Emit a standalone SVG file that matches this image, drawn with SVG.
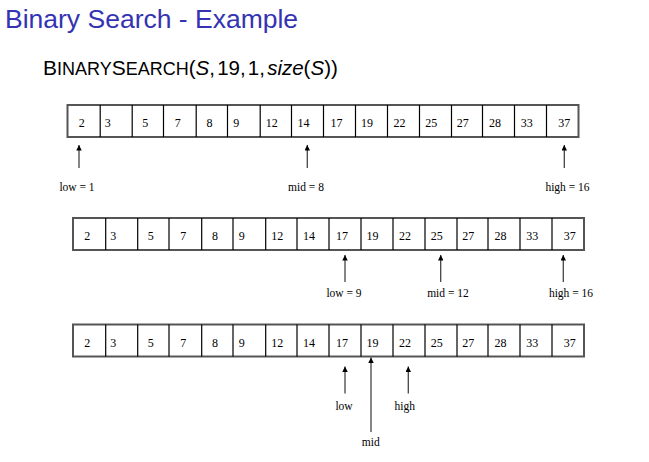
<svg xmlns="http://www.w3.org/2000/svg" width="649" height="462" viewBox="0 0 649 462">
<style>
.title{font-family:"Liberation Sans",Arial,sans-serif;font-size:26.5px;fill:#3333b3}
.sub{font-family:"Liberation Sans",Arial,sans-serif;font-size:21px;fill:#000}
.sc{font-size:18px}
.rest{font-size:20.5px;word-spacing:-3.5px}
.it{font-style:italic}
.frame{fill:#fff;stroke:#555;stroke-width:2}
.div{stroke:#000;stroke-width:1.2}
.num{font-family:"Liberation Serif","Times New Roman",serif;font-size:12px;fill:#000;text-anchor:middle}
.lbl{font-family:"Liberation Serif","Times New Roman",serif;font-size:11.5px;fill:#000;text-anchor:middle}
.arr{stroke:#444;stroke-width:1.3;fill:none;marker-end:url(#ah)}
</style>
<defs>
<marker id="ah" viewBox="0 0 10 10" refX="10" refY="5" markerUnits="userSpaceOnUse" markerWidth="11" markerHeight="5.5" orient="auto">
<path d="M0,0 L10,5 L0,10 z" fill="#000"/>
</marker>
<g id="cells">
<rect class="frame" x="73" y="0" width="511" height="32"/>
<path class="div" d="M105.7,0V32M137.7,0V32M169,0V32M201.7,0V32M233,0V32M265.7,0V32M297,0V32M329,0V32M361,0V32M393,0V32M425,0V32M457,0V32M488,0V32M520,0V32M552,0V32"/>
<text class="num" y="22"><tspan x="87.3">2</tspan><tspan x="113.3">3</tspan><tspan x="150.7">5</tspan><tspan x="183.3">7</tspan><tspan x="215">8</tspan><tspan x="241.7">9</tspan><tspan x="277.3">12</tspan><tspan x="309">14</tspan><tspan x="342">17</tspan><tspan x="372.5">19</tspan><tspan x="405">22</tspan><tspan x="436.7">25</tspan><tspan x="468.3">27</tspan><tspan x="500.5">28</tspan><tspan x="532.3">33</tspan><tspan x="569.7">37</tspan></text>
</g>
</defs>
<g id="title"><text class="title" x="5" y="28">Binary Search - Example</text></g>
<g id="call"><text class="sub" x="43" y="75">B<tspan class="sc">INARY</tspan>S<tspan class="sc">EARCH</tspan><tspan class="rest">(<tspan class="it">S</tspan>, 19, 1, <tspan class="it">size</tspan>(<tspan class="it">S</tspan>))</tspan></text></g>
<g id="array1" transform="translate(-5.5,105)"><use href="#cells"/></g>
<g id="array2" transform="translate(0,218)"><use href="#cells"/></g>
<g id="array3" transform="translate(0,324.5)"><use href="#cells"/></g>
<g id="connectors">
<path class="arr" d="M79,168V145"/>
<path class="arr" d="M307.3,168V145"/>
<path class="arr" d="M564.3,168V145"/>
<path class="arr" d="M345,282V255"/>
<path class="arr" d="M440.7,282V255"/>
<path class="arr" d="M563.3,282V255"/>
<path class="arr" d="M345,393.5V366.5"/>
<path class="arr" d="M371,432V357.5"/>
<path class="arr" d="M408.3,393.5V366.5"/>
</g>
<g id="labels1">
<text class="lbl" x="77" y="190.5">low = 1</text>
<text class="lbl" x="306" y="190.5">mid = 8</text>
<text class="lbl" x="567.5" y="190.5">high = 16</text>
</g>
<g id="labels2">
<text class="lbl" x="344" y="297">low = 9</text>
<text class="lbl" x="448" y="297">mid = 12</text>
<text class="lbl" x="571" y="297">high = 16</text>
</g>
<g id="labels3">
<text class="lbl" x="344" y="410">low</text>
<text class="lbl" x="404.7" y="410">high</text>
<text class="lbl" x="370.7" y="446">mid</text>
</g>
</svg>
